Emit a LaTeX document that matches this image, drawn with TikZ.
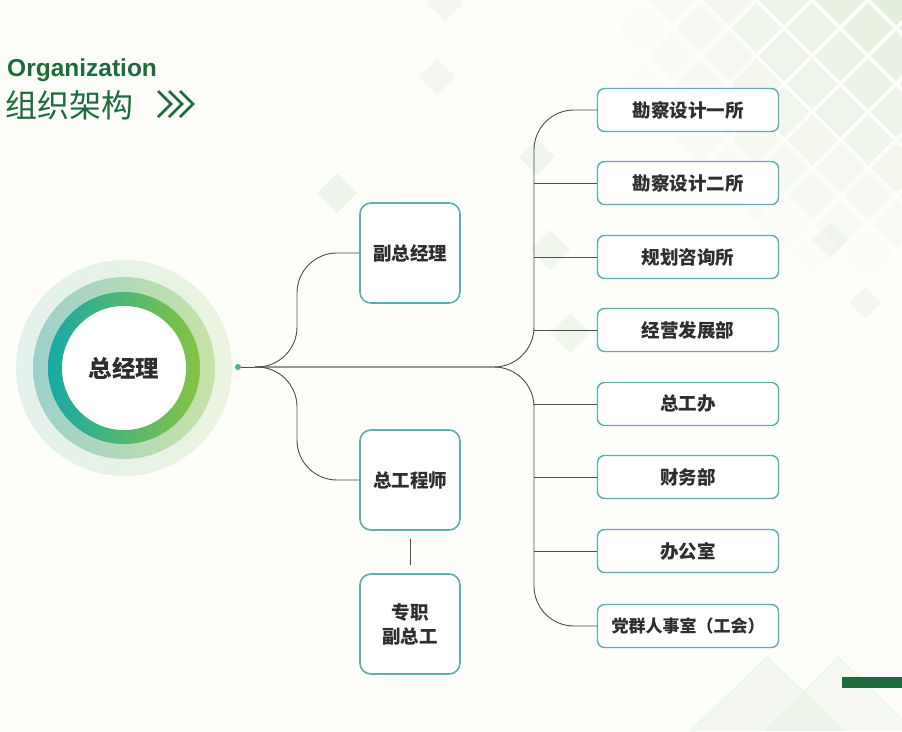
\documentclass[tikz,border=0pt]{standalone}
\usepackage{fontspec}
\setmainfont{Noto Sans CJK SC}
\newfontfamily\latinfont{Liberation Sans}
\definecolor{bgc}{HTML}{FDFDFA}
\definecolor{titlegreen}{HTML}{1E6B3C}
\definecolor{boxline}{HTML}{5EADB2}
\definecolor{linec}{HTML}{4E4E4E}
\definecolor{txt}{HTML}{2E2E2E}
\definecolor{dia}{HTML}{DDEBD6}
\definecolor{ringA}{HTML}{1AA9A6}
\definecolor{ringB}{HTML}{86C441}
\definecolor{ringC}{HTML}{9ED0CB}
\definecolor{ringD}{HTML}{C6E2A6}
\definecolor{ringE}{HTML}{E4F1EC}
\definecolor{ringF}{HTML}{EBF4E0}
\definecolor{dotc}{HTML}{4DB87A}
\tikzset{
  bigbox/.style={draw=boxline, line width=1.6pt, fill=white, rounded corners=11pt,
    minimum width=100pt, minimum height=100pt, inner sep=2pt, align=center,
    text=txt, font=\bfseries\fontsize{18.5}{24}\selectfont},
  unitbox/.style={draw=boxline, line width=1.4pt, fill=white, rounded corners=7pt,
    minimum width=181pt, minimum height=43pt, inner sep=2pt,
    text=txt, font=\bfseries\fontsize{18.5}{20}\selectfont},
  conn/.style={draw=linec, line width=0.9pt, rounded corners=40pt},
  dmd/.style={fill=dia}
}
\begin{document}
\begin{tikzpicture}[x=1pt,y=-1pt]
\fill[bgc] (0,0) rectangle (902,731);
\useasboundingbox (0,0) rectangle (902,731);

% background diamond lattice (top right)
\begin{scope}
\clip (560,0) rectangle (902,330);
\foreach \i in {20,...,33}{
  \foreach \j in {0,...,12}{
    \pgfmathtruncatemacro\myparity{mod(\i+\j,2)}
    \ifnum\myparity=0
      \pgfmathsetmacro\cx{28*\i}
      \pgfmathsetmacro\cy{28*\j}
      \pgfmathsetmacro\op{max(0,0.8-veclen(\cx-902,\cy)/340)}
      \fill[dia, opacity=\op] (\cx,\cy-25) -- (\cx+25,\cy) -- (\cx,\cy+25) -- (\cx-25,\cy) -- cycle;
    \fi
  }
}
\end{scope}
% scattered diamonds
\foreach \cx/\cy/\r/\o in {337/193/20/0.45, 537/157/18/0.35, 550/250/20/0.35, 570/333/20/0.35, 437/77/18/0.3, 445/3/18/0.3, 865/303/16/0.3, 830/240/18/0.3}{
  \fill[dia, opacity=\o] (\cx,\cy-\r) -- (\cx+\r,\cy) -- (\cx,\cy+\r) -- (\cx-\r,\cy) -- cycle;
}
% bottom right triangles
\fill[dia, opacity=0.3] (690,731) -- (767,657) -- (845,731) -- cycle;
\fill[dia, opacity=0.2] (765,731) -- (838,657) -- (902,720) -- (902,731) -- cycle;
\draw[dia!80!green!40, line width=0.7pt] (690,731) -- (767,657) -- (845,731);
\draw[dia!80!green!40, line width=0.7pt] (765,731) -- (838,657) -- (902,719);
\fill[titlegreen] (842,677) rectangle (902,688);

% title
\node[anchor=south west, inner sep=0pt, text=titlegreen,
  font=\latinfont\bfseries\fontsize{24.5}{26}\selectfont] (title) at (7,82) {Organization};
\node[anchor=south west, inner sep=0pt, text=titlegreen,
  font=\fontsize{32}{34}\selectfont] (titlecn) at (5,120) {组织架构};
\foreach \x in {158,169,180}{
  \draw[titlegreen, line width=2.6pt, line join=miter] (\x,91) -- (\x+13,104) -- (\x,117);
}

% rings
\shade[left color=ringE, right color=ringF] (124,368) circle (108);
\shade[left color=ringC, right color=ringD] (124,368) circle (91);
\shade[left color=ringA, right color=ringB] (124,368) circle (76);
\node[circle, fill=white, minimum size=124pt, inner sep=0pt, text=txt,
  font=\bfseries\fontsize{23.5}{26}\selectfont] (gm) at (124,368) {总经理};

% dot
\node[circle, fill=dotc, minimum size=6pt, inner sep=0pt] (dot) at (238,367) {};

% boxes
\node[bigbox] (vp) at (410,253) {副总经理};
\node[bigbox] (ce) at (410,480) {总工程师};
\node[bigbox] (dce) at (410,624) {专职\\副总工};

\node[unitbox] (u1) at (688,110) {勘察设计一所};
\node[unitbox] (u2) at (688,183) {勘察设计二所};
\node[unitbox] (u3) at (688,257) {规划咨询所};
\node[unitbox] (u4) at (688,330) {经营发展部};
\node[unitbox] (u5) at (688,404) {总工办};
\node[unitbox] (u6) at (688,477) {财务部};
\node[unitbox] (u7) at (688,551) {办公室};
\node[unitbox, font=\bfseries\fontsize{17}{20}\selectfont] (u8) at (688,626) {党群人事室（工会）};

\coordinate (j) at (255,367);
\coordinate (tr) at (534,367);

% connectors
\draw[linec, line width=0.9pt] (dot.east) -- (j);
\draw[conn] (j) -- (297,367) -- (297,253) -- (vp.west);
\draw[conn] (j) -- (297,367) -- (297,480) -- (ce.west);
\draw[conn] (j) -- (tr) -- (534,110) -- (u1.west);
\draw[conn] (j) -- (tr) -- (534,626) -- (u8.west);
\foreach \u/\y in {u2/183,u3/257,u4/330,u5/404,u6/477,u7/551}{
  \draw[linec, line width=0.9pt] (534,\y) -- (\u.west);
}
\draw[linec, line width=0.9pt] ([yshift=-8pt]ce.south) -- ([yshift=8pt]dce.north);
\end{tikzpicture}
\end{document}
